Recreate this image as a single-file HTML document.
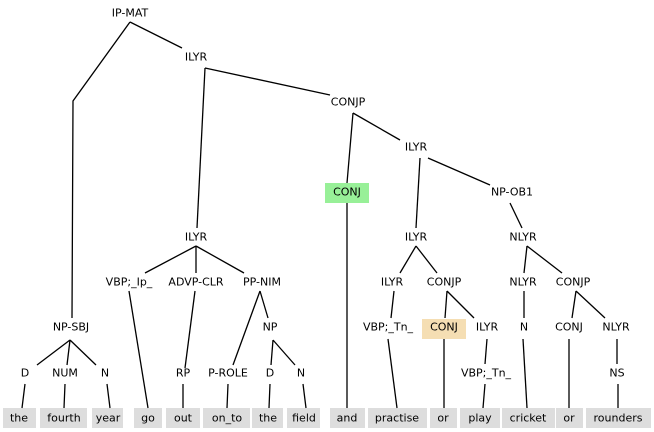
<!DOCTYPE html>
<html><head><meta charset="utf-8"><style>
html,body{margin:0;padding:0;background:#fff;width:654px;height:432px;overflow:hidden}
text{font-family:"DejaVu Sans","Liberation Sans",sans-serif;font-size:11px;fill:#000;text-anchor:middle;dominant-baseline:central}
line,polyline{stroke:#000;stroke-width:1.3;fill:none}
</style></head><body>
<svg width="654" height="432" xmlns="http://www.w3.org/2000/svg">
<g fill="#dddddd">
<rect x="3" y="408" width="33" height="20"/><rect x="40" y="408" width="47" height="20"/>
<rect x="92" y="408" width="31" height="20"/><rect x="134" y="408" width="28" height="20"/>
<rect x="166" y="408" width="34" height="20"/><rect x="203" y="408" width="47" height="20"/>
<rect x="252" y="408" width="31" height="20"/><rect x="287" y="408" width="33" height="20"/>
<rect x="330" y="408" width="35" height="20"/><rect x="368" y="408" width="59" height="20"/>
<rect x="430" y="408" width="27" height="20"/><rect x="460" y="408" width="40" height="20"/>
<rect x="502" y="408" width="53" height="20"/><rect x="556" y="408" width="27" height="20"/>
<rect x="586" y="408" width="65" height="20"/>
</g>
<rect x="325" y="183" width="44" height="20" fill="#98f098"/>
<rect x="422" y="319" width="44" height="20" fill="#f5deb3"/>
<polyline points="130,22 73,101 72,318"/>
<line x1="130" y1="22" x2="182" y2="48"/>
<line x1="205" y1="68" x2="197" y2="228"/>
<line x1="205" y1="68" x2="330" y2="95"/>
<line x1="353" y1="113" x2="347" y2="183"/>
<line x1="353" y1="113" x2="400" y2="140"/>
<line x1="420" y1="158" x2="416" y2="228"/>
<line x1="428" y1="158" x2="490" y2="185"/>
<line x1="510" y1="203" x2="522" y2="228"/>
<line x1="347" y1="203" x2="347" y2="408"/>
<line x1="196" y1="246" x2="145" y2="273"/>
<line x1="196" y1="246" x2="196" y2="273"/>
<line x1="196" y1="246" x2="244" y2="273"/>
<line x1="416" y1="246" x2="400" y2="273"/>
<line x1="416" y1="246" x2="437" y2="273"/>
<line x1="527" y1="246" x2="524" y2="273"/>
<line x1="527" y1="246" x2="562" y2="273"/>
<line x1="129" y1="291" x2="148" y2="408"/>
<line x1="195" y1="291" x2="185" y2="368"/>
<line x1="260" y1="291" x2="233" y2="365"/>
<line x1="260" y1="291" x2="268" y2="318"/>
<line x1="394" y1="291" x2="391" y2="318"/>
<line x1="447" y1="291" x2="445" y2="318"/>
<line x1="447" y1="291" x2="474" y2="318"/>
<line x1="524" y1="291" x2="524" y2="318"/>
<line x1="576" y1="291" x2="572" y2="318"/>
<line x1="576" y1="291" x2="605" y2="318"/>
<line x1="70" y1="340" x2="37" y2="365"/>
<line x1="70" y1="340" x2="67" y2="365"/>
<line x1="70" y1="340" x2="96" y2="365"/>
<line x1="273" y1="340" x2="271" y2="365"/>
<line x1="273" y1="340" x2="295" y2="365"/>
<line x1="388" y1="339" x2="397" y2="408"/>
<line x1="444" y1="339" x2="444" y2="408"/>
<line x1="487" y1="339" x2="485" y2="364"/>
<line x1="523" y1="339" x2="527" y2="408"/>
<line x1="569" y1="339" x2="569" y2="408"/>
<line x1="617" y1="339" x2="617" y2="364"/>
<line x1="25" y1="384" x2="22" y2="408"/>
<line x1="65" y1="384" x2="64" y2="408"/>
<line x1="107" y1="384" x2="110" y2="408"/>
<line x1="183" y1="384" x2="183" y2="408"/>
<line x1="228" y1="384" x2="227" y2="408"/>
<line x1="270" y1="384" x2="269" y2="408"/>
<line x1="303" y1="384" x2="306" y2="408"/>
<line x1="485" y1="384" x2="483" y2="408"/>
<line x1="618" y1="384" x2="618" y2="408"/>
<text x="130" y="13">IP-MAT</text>
<text x="196" y="57">ILYR</text>
<text x="348" y="102">CONJP</text>
<text x="416" y="147">ILYR</text>
<text x="347" y="192">CONJ</text>
<text x="512" y="192">NP-OB1</text>
<text x="196" y="237">ILYR</text>
<text x="416" y="237">ILYR</text>
<text x="523" y="237">NLYR</text>
<text x="129" y="282">VBP;_Ip_</text>
<text x="196" y="282">ADVP-CLR</text>
<text x="262" y="282">PP-NIM</text>
<text x="392" y="282">ILYR</text>
<text x="444" y="282">CONJP</text>
<text x="523" y="282">NLYR</text>
<text x="573" y="282">CONJP</text>
<text x="71" y="327">NP-SBJ</text>
<text x="270" y="327">NP</text>
<text x="388" y="327">VBP;_Tn_</text>
<text x="444" y="327">CONJ</text>
<text x="487" y="327">ILYR</text>
<text x="524" y="327">N</text>
<text x="569" y="327">CONJ</text>
<text x="616" y="327">NLYR</text>
<text x="25" y="373">D</text>
<text x="65" y="373">NUM</text>
<text x="105" y="373">N</text>
<text x="183" y="373">RP</text>
<text x="228" y="373">P-ROLE</text>
<text x="270" y="373">D</text>
<text x="301" y="373">N</text>
<text x="486" y="373">VBP;_Tn_</text>
<text x="617" y="373">NS</text>
<text x="19" y="418">the</text><text x="64" y="418">fourth</text><text x="108" y="418">year</text>
<text x="148" y="418">go</text><text x="183" y="418">out</text><text x="227" y="418">on_to</text>
<text x="268" y="418">the</text><text x="304" y="418">field</text><text x="347" y="418">and</text>
<text x="397" y="418">practise</text><text x="443" y="418">or</text><text x="480" y="418">play</text>
<text x="528" y="418">cricket</text><text x="569" y="418">or</text><text x="618" y="418">rounders</text>
</svg>
</body></html>
